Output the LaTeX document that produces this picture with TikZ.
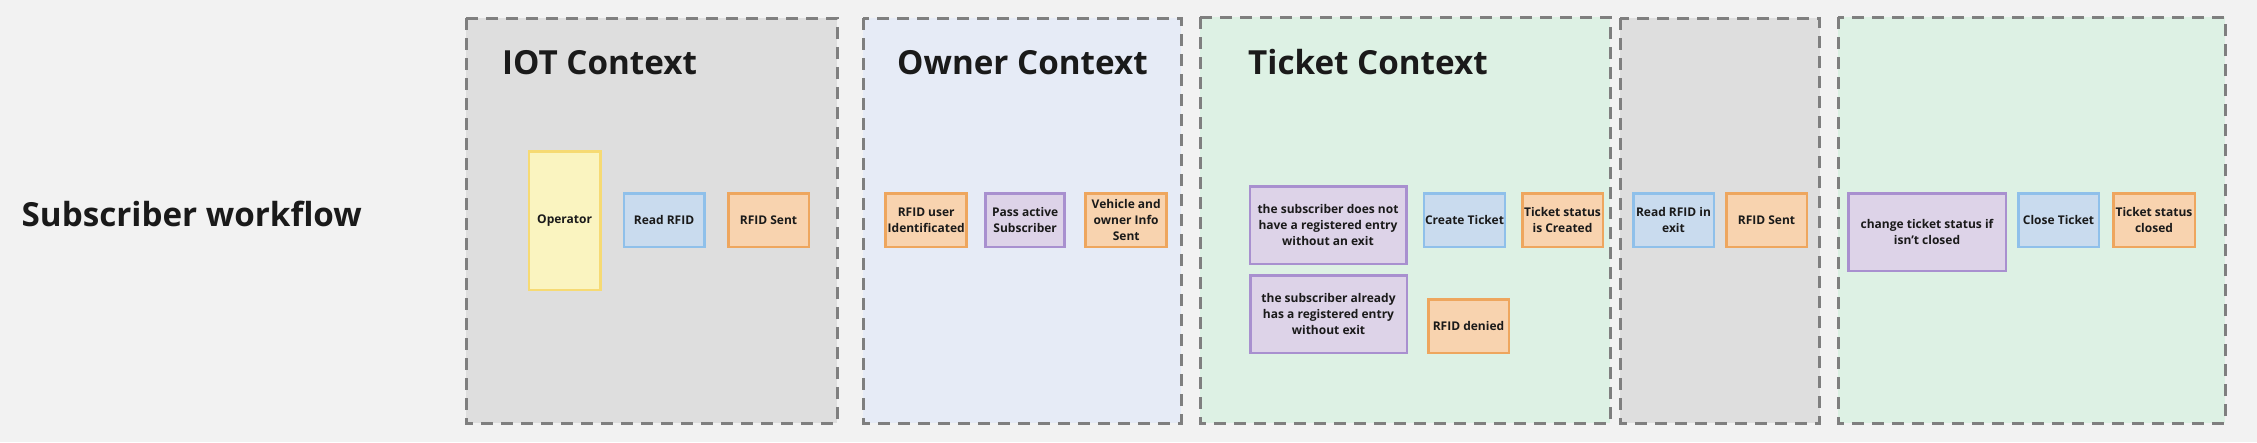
\documentclass[tikz,border=0pt]{standalone}
\usepackage{fontspec}
\setmainfont{Open Sans}
\definecolor{bg}{HTML}{F2F2F2}
\definecolor{grayfill}{HTML}{DEDEDE}
\definecolor{bluefill}{HTML}{E6EBF6}
\definecolor{greenfill}{HTML}{DDF1E4}
\definecolor{dashcol}{HTML}{7F7F7F}
\definecolor{txt}{HTML}{1A1A1A}
\definecolor{yelF}{HTML}{FAF4C0}
\definecolor{yelD}{HTML}{F6DA73}
\definecolor{bluF}{HTML}{C9DBEE}
\definecolor{bluD}{HTML}{8FC0EA}
\definecolor{oraF}{HTML}{F8D3AF}
\definecolor{oraD}{HTML}{EEA65E}
\definecolor{purF}{HTML}{DDD3E8}
\definecolor{purD}{HTML}{A890CF}
\tikzset{
  container/.style={draw=dashcol, line width=3pt, dash pattern=on 12pt off 8pt},
  ctitle/.style={anchor=base west, inner sep=0pt, text=txt, font=\fontsize{33.2}{40}\selectfont\bfseries},
  card/.style={rectangle, line width=2.5pt, inner sep=1pt, align=center, text=txt,
    font=\fontsize{12}{16}\selectfont\bfseries, minimum width=80.5pt, minimum height=53.5pt},
  yelcard/.style={card, fill=yelF, draw=yelD},
  blucard/.style={card, fill=bluF, draw=bluD},
  oracard/.style={card, fill=oraF, draw=oraD},
  purcard/.style={card, fill=purF, draw=purD},
}
\begin{document}
\begin{tikzpicture}[x=1pt,y=-1pt]
  \path[fill=bg] (0,0) rectangle (2257,442);
  \useasboundingbox (0,0) rectangle (2257,442);

  % containers
  \path[container, fill=grayfill]  (466,18) rectangle (837,423);
  \path[container, fill=bluefill]  (863,18) rectangle (1181,423);
  \path[container, fill=greenfill] (1200,17) rectangle (1610,423);
  \path[container, fill=grayfill]  (1620,18) rectangle (1819.5,423);
  \path[container, fill=greenfill] (1838,17) rectangle (2225,423);

  % titles
  \node[ctitle] (title) at (21.5,226.5) {Subscriber workflow};
  \node[ctitle] (iotT) at (502,74) {IOT Context};
  \node[ctitle] (ownT) at (897,74) {Owner Context};
  \node[ctitle] (tktT) at (1248,74) {Ticket Context};

  % IOT context
  \node[yelcard, minimum width=71.5pt, minimum height=138.5pt] (operator) at (564.6,220.5) {Operator};
  \node[blucard] (readrfid) at (664,220) {Read RFID};
  \node[oracard] (rfidsent) at (768.5,220) {RFID Sent};

  % Owner context
  \node[oracard, minimum width=81pt] (rfiduser) at (926.2,220) {RFID user\\Identificated};
  \node[purcard, minimum width=79pt] (passact) at (1025.2,220) {Pass active\\Subscriber};
  \node[oracard, minimum width=81pt] (vehicle) at (1126.2,220) {Vehicle and\\owner Info\\Sent};

  % Ticket context
  \node[purcard, minimum width=156.5pt, minimum height=77.5pt] (noentry) at (1328,225) {the subscriber does not\\have a registered entry\\without an exit};
  \node[purcard, minimum width=156.5pt, minimum height=77.5pt] (hasentry) at (1328.5,314) {the subscriber already\\has a registered entry\\without exit};
  \node[blucard] (create) at (1464.5,220) {Create Ticket};
  \node[oracard] (created) at (1562.5,220) {Ticket status\\is Created};
  \node[oracard] (denied) at (1468.5,326) {RFID denied};

  % exit reading
  \node[blucard] (readexit) at (1673.5,220) {Read RFID in\\exit};
  \node[oracard] (rfidsent2) at (1766.5,220) {RFID Sent};

  % closing
  \node[purcard, minimum width=157.5pt, minimum height=77.5pt] (change) at (1927,232) {change ticket status if\\isn't closed};
  \node[blucard] (close) at (2058.5,220) {Close Ticket};
  \node[oracard, minimum width=81.5pt] (closed) at (2154,220) {Ticket status\\closed};
\end{tikzpicture}
\end{document}
